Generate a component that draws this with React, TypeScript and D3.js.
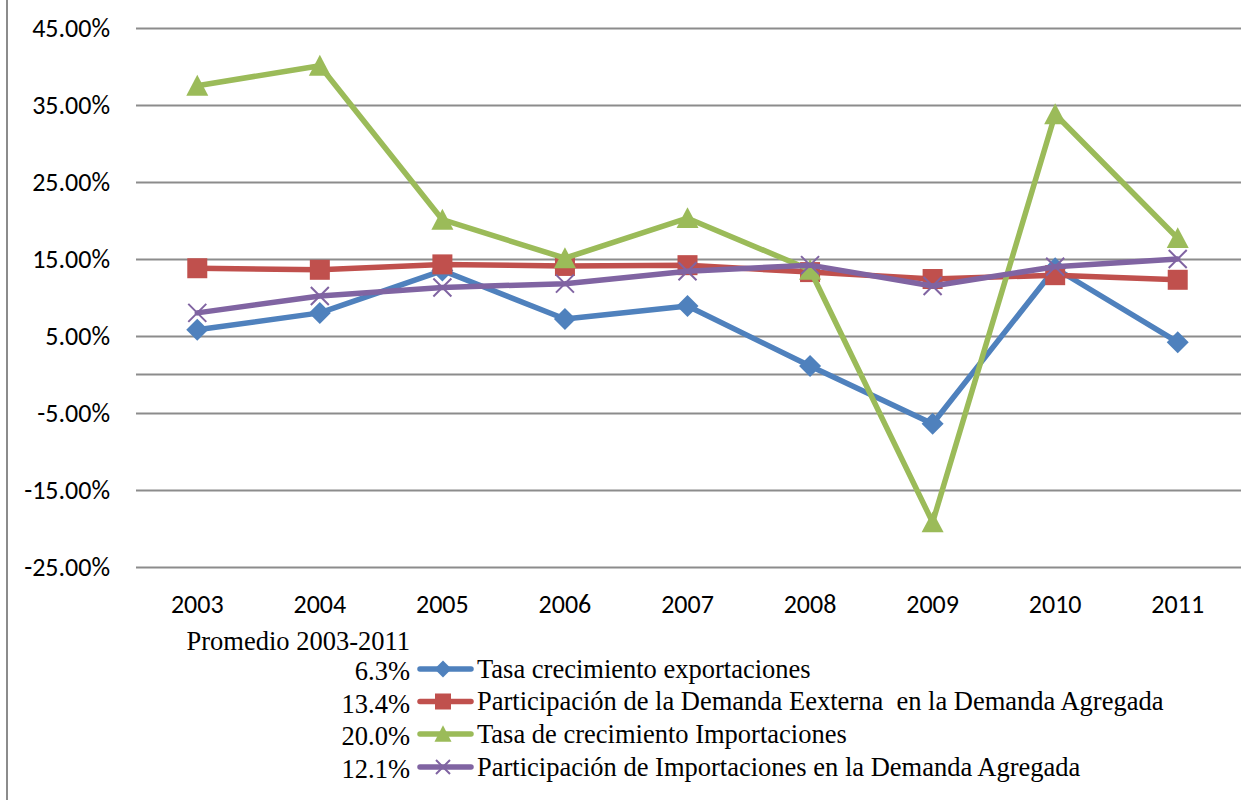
import React from "react";
import * as d3 from "d3";

// Years on the category axis
const years = ["2003", "2004", "2005", "2006", "2007", "2008", "2009", "2010", "2011"];

// Series values, in percent
const exportGrowth = [5.8, 8.0, 13.5, 7.2, 8.9, 1.1, -6.4, 13.8, 4.2];
const externalDemandShare = [13.8, 13.6, 14.3, 14.1, 14.2, 13.3, 12.4, 12.9, 12.3];
const importGrowth = [37.5, 40.1, 20.1, 15.1, 20.3, 13.6, -19.2, 33.8, 17.7];
const importShare = [8.0, 10.2, 11.3, 11.8, 13.4, 14.2, 11.5, 14.0, 15.0];

// Legend names and 2003-2011 averages
const seriesNames = [
  "Tasa crecimiento exportaciones",
  "Participación de la Demanda Eexterna  en la Demanda Agregada",
  "Tasa de crecimiento Importaciones",
  "Participación de Importaciones en la Demanda Agregada",
];
const averages = ["6.3%", "13.4%", "20.0%", "12.1%"];
const averageTitle = "Promedio 2003-2011";

// Value axis ticks
const yTicks = [45, 35, 25, 15, 5, -5, -15, -25];

const colors = ["#4F81BD", "#C0504D", "#9BBB59", "#8064A2"];
const markerKinds = ["diamond", "square", "triangle", "cross"] as const;

const W = 1241;
const H = 800;
const plotLeft = 136;
const plotRight = 1239;
const plotTop = 28;
const plotBottom = 567;

const axisFont = "Carlito, Lato, 'Liberation Sans', sans-serif";
const legendFont = "'Liberation Serif', 'Times New Roman', serif";

function Marker({ kind, x, y, color, s }: { kind: string; x: number; y: number; color: string; s: number }) {
  if (kind === "diamond") {
    const h = s / 2;
    return <path d={`M${x},${y - h}L${x + h},${y}L${x},${y + h}L${x - h},${y}Z`} fill={color} />;
  }
  if (kind === "square") {
    return <rect x={x - s / 2} y={y - s / 2} width={s} height={s} fill={color} />;
  }
  if (kind === "triangle") {
    const h = s * 0.9;
    return (
      <path
        d={`M${x},${y - h / 2 - 1}L${x + s / 2},${y + h / 2}L${x - s / 2},${y + h / 2}Z`}
        fill={color}
      />
    );
  }
  const h = s / 2;
  return (
    <path
      d={`M${x - h},${y - h}L${x + h},${y + h}M${x - h},${y + h}L${x + h},${y - h}`}
      stroke={color}
      strokeWidth={2}
      fill="none"
    />
  );
}

export default function App() {
  const x = d3.scaleBand<string>().domain(years).range([plotLeft, plotRight]);
  const cx = (yr: string) => (x(yr) as number) + x.bandwidth() / 2;
  const y = d3.scaleLinear().domain([-25, 45]).range([plotBottom, plotTop]);

  const series = [exportGrowth, externalDemandShare, importGrowth, importShare];
  const line = d3
    .line<number>()
    .x((_, i) => cx(years[i]))
    .y((v) => y(v));

  const gridValues = [...yTicks, 0];

  const legendRows = [669, 701.5, 734, 767];
  const legendLineX0 = 420;
  const legendLineX1 = 471;
  const legendMarkerX = 443;

  return (
    <svg
      width={W}
      height={H}
      style={{ position: "absolute", left: 0, top: 0, background: "#fff" }}
      xmlns="http://www.w3.org/2000/svg"
    >
      <rect x={0} y={0} width={W} height={H} fill="#fff" />
      {/* chart frame */}
      <line x1={7} x2={7} y1={0} y2={H} stroke="#8c8c8c" strokeWidth={2} />

      {/* gridlines and the horizontal axis at 0 */}
      {gridValues.map((v) => (
        <line
          key={`g${v}`}
          x1={plotLeft}
          x2={W}
          y1={Math.round(y(v)) + 0.5}
          y2={Math.round(y(v)) + 0.5}
          stroke="#8c8c8c"
          strokeWidth={2}
        />
      ))}

      {/* value axis labels */}
      {yTicks.map((v) => (
        <text
          key={`t${v}`}
          x={110}
          y={y(v) + 9}
          textAnchor="end"
          fontFamily={axisFont}
          fontSize={26}
          fill="#000"
        >
          {`${v.toFixed(2)}%`}
        </text>
      ))}

      {/* category labels */}
      {years.map((yr) => (
        <text
          key={yr}
          x={cx(yr)}
          y={613}
          textAnchor="middle"
          fontFamily={axisFont}
          fontSize={26}
          fill="#000"
        >
          {yr}
        </text>
      ))}

      {/* series */}
      {series.map((vals, si) => (
        <g key={`s${si}`}>
          <path
            d={line(vals) as string}
            fill="none"
            stroke={colors[si]}
            strokeWidth={5.5}
            strokeLinejoin="round"
            strokeLinecap="round"
          />
          {vals.map((v, i) => (
            <Marker
              key={i}
              kind={markerKinds[si]}
              x={cx(years[i])}
              y={y(v)}
              color={colors[si]}
              s={markerKinds[si] === "cross" ? 18 : markerKinds[si] === "square" ? 20 : 22}
            />
          ))}
        </g>
      ))}

      {/* legend with averages */}
      <text x={410} y={650} textAnchor="end" fontFamily={legendFont} fontSize={26.5} fill="#000">
        {averageTitle}
      </text>
      {seriesNames.map((name, si) => {
        const cy = legendRows[si];
        return (
          <g key={`l${si}`}>
            <text
              x={410}
              y={cy + 11}
              textAnchor="end"
              fontFamily={legendFont}
              fontSize={26.5}
              fill="#000"
            >
              {averages[si]}
            </text>
            <line
              x1={legendLineX0}
              x2={legendLineX1}
              y1={cy}
              y2={cy}
              stroke={colors[si]}
              strokeWidth={5.5}
              strokeLinecap="round"
            />
            <Marker
              kind={markerKinds[si]}
              x={legendMarkerX}
              y={cy}
              color={colors[si]}
              s={markerKinds[si] === "cross" ? 14 : markerKinds[si] === "square" ? 16 : 17}
            />
            <text
              x={477}
              y={cy + 8.5}
              fontFamily={legendFont}
              fontSize={26.5}
              fill="#000"
              style={{ whiteSpace: "pre" }}
            >
              {name}
            </text>
          </g>
        );
      })}
    </svg>
  );
}
